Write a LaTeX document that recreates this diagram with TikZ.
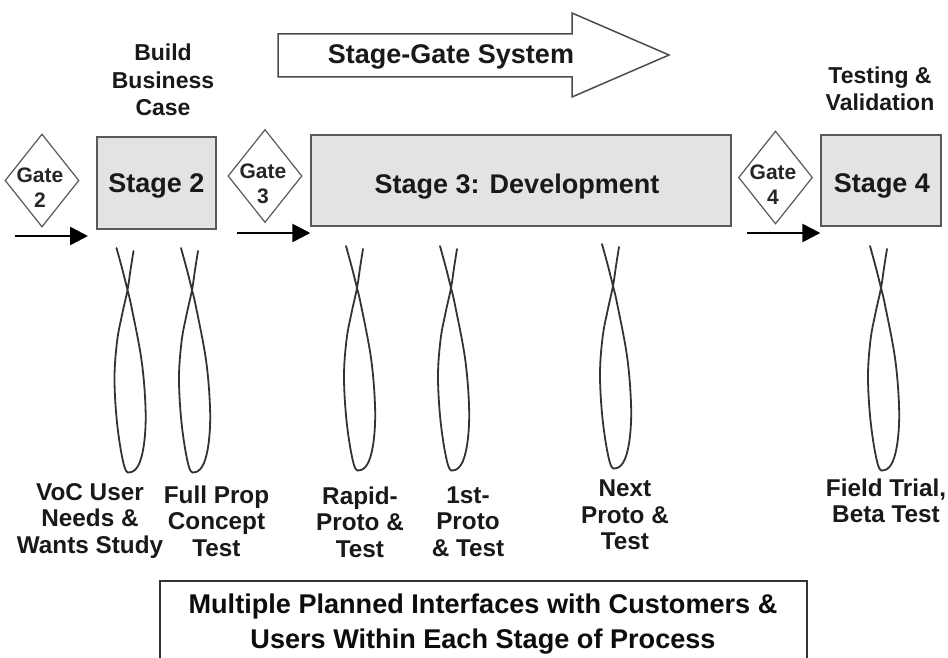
\documentclass[tikz,border=0pt]{standalone}
\usepackage{fontspec}
\setmainfont{Liberation Sans}
\usetikzlibrary{shapes.geometric,arrows.meta}
\tikzset{
 stagebox/.style={draw=black!65,line width=1.4pt,fill=black!11,inner sep=0pt,minimum height=91pt},
 stagetext/.style={font=\bfseries\fontsize{27}{30}\selectfont,inner sep=0pt,text=black!90},
 gate/.style={draw=black!65,line width=1.2pt,diamond,aspect=0.8,inner sep=0pt,fill=white,minimum width=74pt,minimum height=93pt},
 gatetext/.style={font=\bfseries\fontsize{21}{25}\selectfont,align=center,inner sep=0pt,text=black!85},
 lab/.style={font=\bfseries\fontsize{24.3}{26.5}\selectfont,align=center,inner sep=0pt,text=black!90},
 toplab/.style={font=\bfseries\fontsize{23}{27.5}\selectfont,align=center,inner sep=0pt,text=black!90},
 flow/.style={line width=2.6pt,black,-{Triangle[length=18pt,width=18pt]}},
 loopline/.style={draw=black!80,line width=1.8pt,line cap=round}
}
\newcommand{\fishloop}[2]{%
 \draw[loopline,shift={(#1,#2)}] plot[smooth,tension=0.6] coordinates {(-11,-42) (-5,-20) (0,0) (4,17) (14,70) (18,117) (17,150) (12,173) (4,182) (-3,177) (-10,137) (-13,90) (-10.5,52) (-5.5,25) (0,0) (3,-20) (6,-39)};}
\begin{document}
\begin{tikzpicture}[x=1pt,y=-1pt]
\useasboundingbox (0,0) rectangle (948,658);
\fill[white] (0,0) rectangle (948,658);
% system arrow
\draw[draw=black!70,line width=1.5pt,fill=white] (278,34) -- (572,34) -- (572,13) -- (669,55) -- (572,97) -- (572,77) -- (278,77) -- cycle;
\node[font=\bfseries\fontsize{27}{30}\selectfont,inner sep=0pt,text=black!90] (sys) at (451,56.5) {Stage-Gate System};
% stages
\node[stagebox,minimum width=119pt,minimum height=92pt] (s2) at (156.5,183) {};
\node[stagetext] (s2t) at (156.5,186) {Stage 2};
\node[stagebox,minimum width=420pt] (s3) at (521,180.5) {};
\node[stagetext] (s3t) at (517,187) {Stage 3: Development};
\node[stagebox,minimum width=120pt] (s4) at (881,180.5) {};
\node[stagetext] (s4t) at (882,186) {Stage 4};
% gates
\node[gate] (g2) at (42,180.5) {};
\node[gatetext] (g2t) at (40,187.5) {Gate\\2};
\node[gate] (g3) at (265,176) {};
\node[gatetext] (g3t) at (263,183.5) {Gate\\3};
\node[gate] (g4) at (775.5,177.5) {};
\node[gatetext] (g4t) at (773,184.5) {Gate\\4};
% flow arrows
\coordinate (a2) at (14.5,236);
\coordinate (b2) at (88,236);
\coordinate (a3) at (237,233);
\coordinate (a4) at (747,233);
\draw[flow] (a2) -- (b2);
\draw[flow] (a3) -- (s3.west |- a3);
\draw[flow] (a4) -- (s4.west |- a4);
% loops
\fishloop{127.5}{290}
\fishloop{192}{290}
\fishloop{357}{288}
\fishloop{451}{288}
\fishloop{613}{286}
\fishloop{881}{288}
% labels
\node[toplab] (t1) at (163,80) {Build\\Business\\Case};
\node[toplab] (t2) at (880,89) {Testing \&\\Validation};
\node[lab] (l1) at (90,521) {VoC User\\Needs \&\\Wants Study};
\node[lab] (l2) at (216.5,521) {Full Prop\\Concept\\Test};
\node[lab] (l3) at (360,522) {Rapid-\\Proto \&\\Test};
\node[lab] (l4) at (468,521.5) {1st-\\Proto\\\& Test};
\node[lab] (l5) at (625,515) {Next\\Proto \&\\Test};
\node[lab] (l6) at (886,501) {Field Trial,\\Beta Test};
% bottom box
\draw[draw=black!80,line width=1.6pt] (160,658) -- (160,581) -- (807,581) -- (807,658);
\node[font=\bfseries\fontsize{27.1}{35}\selectfont,align=center,inner sep=0pt,text=black!95] (b) at (483,624) {Multiple Planned Interfaces with Customers \&\\Users Within Each Stage of Process};
\end{tikzpicture}
\end{document}
